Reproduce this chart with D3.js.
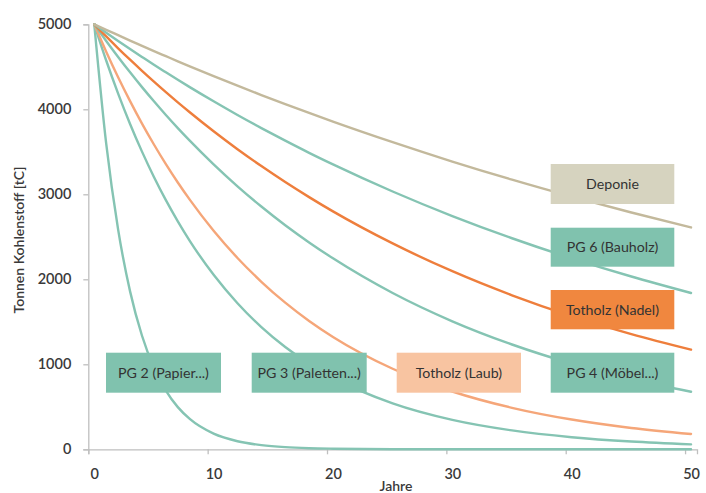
<!DOCTYPE html>
<html><head><meta charset="utf-8">
<script src="https://cdn.jsdelivr.net/npm/d3@7"></script>
<style>
html,body{margin:0;padding:0;background:#fff;}
svg{display:block;font-family:Lato,"Open Sans",sans-serif;}
</style></head>
<body><svg id="c" width="706" height="493"></svg>
<script>
// Years (categories on the x axis)
const years = [0,1,2,3,4,5,6,7,8,10,12,14,16,18,20,25,30,35,40,45,50];
const xTickLabels = [0,10,20,30,40,50];
const yTickValues = [0,1000,2000,3000,4000,5000];

// Series values (t C remaining)
const deponie   = [5000,4935,4872,4809,4747,4685,4625,4565,4506,4390,4278,4168,4061,3957,3855,3613,3385,3172,2973,2786,2610];
const pg6       = [5000,4901,4804,4709,4616,4524,4435,4347,4261,4094,3933,3779,3631,3488,3352,3033,2744,2483,2247,2033,1839];
const nadel     = [5000,4857,4718,4583,4452,4325,4201,4081,3965,3741,3530,3332,3144,2967,2799,2422,2095,1812,1567,1356,1173];
const pg4       = [5000,4804,4616,4435,4261,4094,3933,3779,3631,3352,3094,2856,2636,2434,2247,1839,1506,1233,1009,827,677];
const laub      = [5000,4678,4377,4096,3832,3586,3355,3139,2937,2571,2251,1971,1725,1510,1322,948,680,488,350,251,180];
const pg3       = [5000,4574,4185,3828,3502,3204,2931,2682,2453,2053,1719,1438,1204,1007,843,540,346,222,142,91,58];
const pg2       = [5000,3595,2584,1858,1336,960,690,496,357,184,95,49,25,13,7,1,0,0,0,0,0];

const seriesNames = ["Deponie","PG 6 (Bauholz)","Totholz (Nadel)","PG 4 (Möbel...)","Totholz (Laub)","PG 3 (Paletten...)","PG 2 (Papier...)"];
const seriesValues = [deponie,pg6,nadel,pg4,laub,pg3,pg2];
const lineColors = ["#c3b99c","#85c4b3","#ee7e3c","#85c4b3","#f5a679","#85c4b3","#85c4b3"];
const boxColors  = ["#d6d3bf","#80c2ae","#f0873f","#80c2ae","#f8c4a1","#80c2ae","#80c2ae"];

const svg = d3.select("#c");
const x = d3.scaleLinear().domain([-0.5,50.5]).range([88.3,697]);
const y = d3.scaleLinear().domain([0,5000]).range([449.3,24.3]);
const axisColor = "#bfbfbf";
const textColor = "#3a3a3a";

// Y axis
const gy = svg.append("g").attr("transform","translate(88.3,0)")
  .call(d3.axisLeft(y).tickValues(yTickValues).tickSizeOuter(0).tickSize(5).tickPadding(12).tickFormat(d3.format("d")));
gy.select(".domain").attr("stroke",axisColor).attr("stroke-width",1.3);
gy.selectAll(".tick line").attr("stroke",axisColor).attr("stroke-width",1.3);
gy.selectAll(".tick text").attr("fill",textColor).attr("font-size",14.5).attr("font-weight",600).attr("font-family","Lato, sans-serif");

// X axis: tick marks at category boundaries, labels at category centres
const gxT = svg.append("g").attr("transform","translate(0,449.3)")
  .call(d3.axisBottom(x).tickValues(xTickLabels.map(d=>d-0.5)).tickSizeOuter(0).tickSize(5).tickFormat(""));
gxT.select(".domain").attr("stroke",axisColor).attr("stroke-width",1.3);
gxT.selectAll(".tick line").attr("stroke",axisColor).attr("stroke-width",1.3);
const gxL = svg.append("g").attr("transform","translate(0,449.3)")
  .call(d3.axisBottom(x).tickValues(xTickLabels).tickSize(0).tickPadding(19).tickFormat(d3.format("d")));
gxL.select(".domain").remove();
gxL.selectAll(".tick text").attr("fill",textColor).attr("font-size",14.5).attr("font-weight",600).attr("font-family","Lato, sans-serif");

// Axis titles
svg.append("text").attr("x",396).attr("y",491).attr("text-anchor","middle")
  .attr("fill",textColor).attr("font-size",14).attr("font-weight",600).text("Jahre");
svg.append("text").attr("transform","translate(24,240) rotate(-90)").attr("text-anchor","middle")
  .attr("fill",textColor).attr("font-size",14).attr("font-weight",600).text("Tonnen Kohlenstoff [tC]");

// Lines
const line = d3.line().x((d,i)=>x(years[i])).y(d=>y(d)).curve(d3.curveMonotoneX);
const drawOrder = [6,5,4,3,2,1,0];
drawOrder.forEach(i=>{
  svg.append("path").datum(seriesValues[i]).attr("d",line)
    .attr("fill","none").attr("stroke",lineColors[i]).attr("stroke-width",2.4)
    .attr("stroke-linejoin","round").attr("stroke-linecap","round");
});

// Label boxes
const boxDefs = [
  {i:0, x0:550.7, x1:674.3, y0:164,   y1:204},
  {i:1, x0:550.7, x1:674.3, y0:227.7, y1:266.7},
  {i:2, x0:550.7, x1:674.3, y0:290,   y1:329.3},
  {i:3, x0:550.7, x1:674.3, y0:352.7, y1:392.7},
  {i:4, x0:396.7, x1:521,   y0:352.7, y1:392.7},
  {i:5, x0:251.7, x1:366.7, y0:352.7, y1:392.7},
  {i:6, x0:106,   x1:221,   y0:352.7, y1:392.7}
];
boxDefs.forEach(b=>{
  svg.append("rect").attr("x",b.x0).attr("y",b.y0).attr("width",b.x1-b.x0).attr("height",b.y1-b.y0)
    .attr("fill",boxColors[b.i]);
  svg.append("text").attr("x",(b.x0+b.x1)/2).attr("y",(b.y0+b.y1)/2).attr("dy","0.35em")
    .attr("text-anchor","middle").attr("fill","#333").attr("font-size",14.2).text(seriesNames[b.i]);
});
</script></body></html>
